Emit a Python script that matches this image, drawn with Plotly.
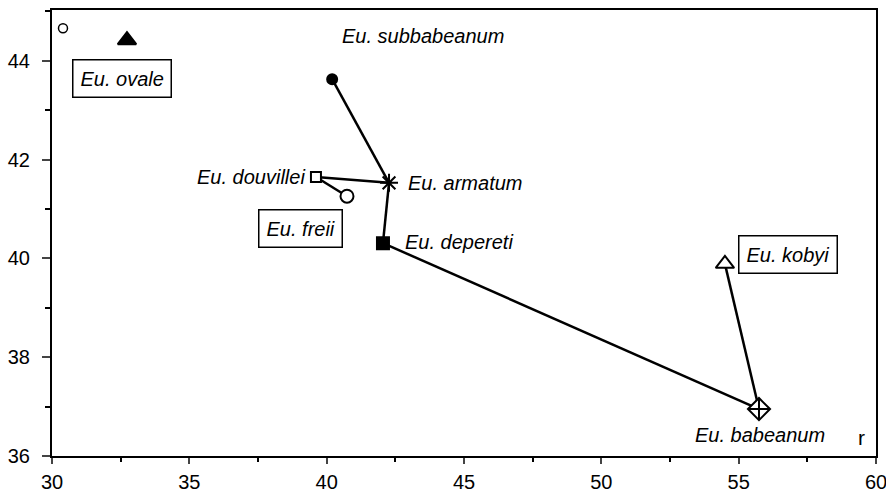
import plotly.graph_objects as go

# ---- data ----
species = ["Eu. subbabeanum", "Eu. armatum", "Eu. douvillei", "Eu. freii",
           "Eu. depereti", "Eu. babeanum", "Eu. kobyi", "Eu. ovale", "unlabelled"]
r_vals = [40.2, 42.27, 39.61, 40.74, 42.05, 55.74, 54.5, 32.73, 30.4]
y_vals = [43.63, 41.53, 41.65, 41.26, 40.31, 36.95, 39.89, 44.42, 44.66]
symbols = ["circle", "asterisk-open", "square-open", "circle-open", "square",
           "diamond-cross-open", "triangle-up-open", "triangle-up", "circle-open"]
fill_under = [None, None, "square", "circle", None, "diamond", "triangle-up", None, "circle"]
sizes = [10, 15, 10, 13, 12, 17, 16, 16, 9]
edges = [("Eu. subbabeanum", "Eu. armatum"), ("Eu. douvillei", "Eu. armatum"),
         ("Eu. douvillei", "Eu. freii"), ("Eu. armatum", "Eu. depereti"),
         ("Eu. depereti", "Eu. babeanum"), ("Eu. babeanum", "Eu. kobyi")]
x_ticks = [30, 35, 40, 45, 50, 55, 60]
y_ticks = [36, 38, 40, 42, 44]

# labels: (text, x, y, anchor, boxed)
labels = [
    ("Eu. subbabeanum", 40.56, 44.5, "left", False),
    ("Eu. douvillei", 39.21, 41.65, "right", False),
    ("Eu. armatum", 42.96, 41.53, "left", False),
    ("Eu. depereti", 42.85, 40.33, "left", False),
    ("Eu. babeanum", 55.77, 36.43, "center", False),
    ("Eu. ovale", 32.55, 43.65, "center", True),
    ("Eu. freii", 39.06, 40.6, "center", True),
    ("Eu. kobyi", 56.79, 40.07, "center", True),
]

FONT = "Liberation Sans, Arial, Helvetica, sans-serif"
idx = {n: i for i, n in enumerate(species)}
fig = go.Figure()

lx, ly = [], []
for a, b in edges:
    lx += [r_vals[idx[a]], r_vals[idx[b]], None]
    ly += [y_vals[idx[a]], y_vals[idx[b]], None]
fig.add_trace(go.Scatter(x=lx, y=ly, mode="lines",
                         line=dict(color="black", width=2.5), hoverinfo="skip"))

for i, n in enumerate(species):
    if fill_under[i]:
        fig.add_trace(go.Scatter(
            x=[r_vals[i]], y=[y_vals[i]], mode="markers", hoverinfo="skip",
            marker=dict(symbol=fill_under[i], size=sizes[i], color="white",
                        line=dict(width=0))))
    lw = 1.5 if i == len(species) - 1 else 2
    fig.add_trace(go.Scatter(
        x=[r_vals[i]], y=[y_vals[i]], mode="markers", name=n,
        marker=dict(symbol=symbols[i], size=sizes[i], color="black",
                    line=dict(color="black", width=lw))))

for text, x, y, anc, boxed in labels:
    fig.add_annotation(
        x=x, y=y, xref="x", yref="y", text=text, showarrow=False,
        xanchor=anc, yanchor="middle",
        font=dict(family=FONT, size=20, color="black", style="italic"),
        bordercolor="black" if boxed else "rgba(0,0,0,0)",
        borderwidth=1.5 if boxed else 0, borderpad=7 if boxed else 0,
        bgcolor="white" if boxed else "rgba(0,0,0,0)")

fig.add_annotation(x=59.49, y=36.38, xref="x", yref="y", text="r", showarrow=False,
                   font=dict(family=FONT, size=21, color="black"))

fig.update_layout(
    width=886, height=494, showlegend=False,
    paper_bgcolor="white", plot_bgcolor="white",
    margin=dict(l=52, r=10, t=10, b=38, autoexpand=False),
    font=dict(family=FONT, size=20, color="black"),
)
fig.update_xaxes(range=[30, 60], tickvals=x_ticks, ticks="outside", ticklen=6, tickwidth=2,
                 showline=True, linewidth=2, linecolor="black", mirror=True,
                 showgrid=False, zeroline=False, ticklabelstandoff=1, automargin=False,
                 ticklabeloverflow="allow",
                 minor=dict(dtick=2.5, ticks="outside", ticklen=4, tickwidth=2, tickcolor="black"))
fig.update_yaxes(range=[36, 45.03], tickvals=y_ticks, ticks="outside", ticklen=8, tickwidth=2,
                 showline=True, linewidth=2, linecolor="black", mirror=True,
                 showgrid=False, zeroline=False, ticklabelstandoff=8, automargin=False,
                 ticklabeloverflow="allow",
                 minor=dict(dtick=1, ticks="outside", ticklen=5, tickwidth=2, tickcolor="black"))

fig.write_html("out.html", config={"displayModeBar": False},
               post_script="document.body.style.margin='0';document.body.style.overflow='hidden';")
